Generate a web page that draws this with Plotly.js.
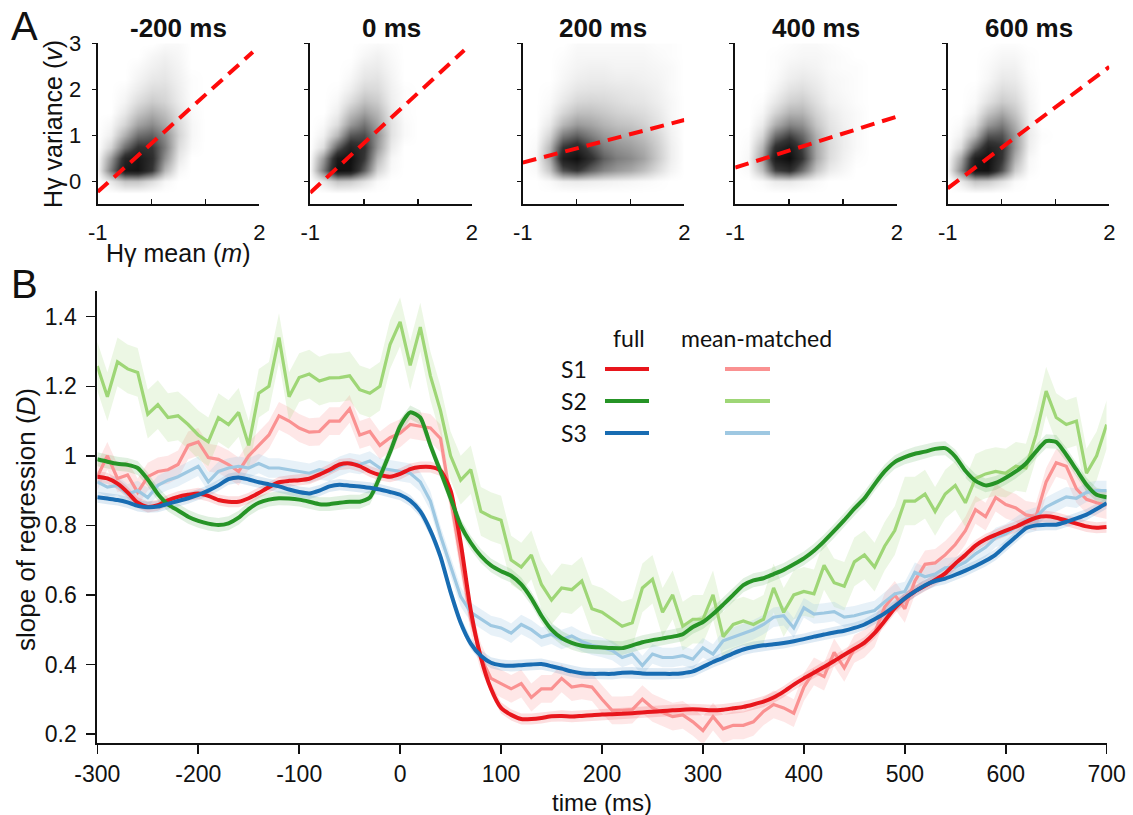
<!DOCTYPE html>
<html>
<head>
<meta charset="utf-8">
<script src="https://cdn.plot.ly/plotly-3.0.1.min.js"></script>
<style>
html,body{margin:0;padding:0;background:#fff;}
#chart{width:1133px;height:815px;}
</style>
</head>
<body>
<div id="chart"></div>
<script>
// ---------------- Panel A data ----------------
const panelTitles = ['-200 ms', '0 ms', '200 ms', '400 ms', '600 ms'];
const heatX = [-1, -0.75, -0.5, -0.25, 0, 0.25, 0.5, 0.75, 1, 1.25, 1.5, 1.75, 2];
const heatY = [3, 2.75, 2.5, 2.25, 2, 1.75, 1.5, 1.25, 1, 0.75, 0.5, 0.25, 0, -0.25];

const densM200 = [
[0,0,0,0,0,0.02,0.02,0,0,0,0,0,0],
[0,0,0,0,0.03,0.05,0.03,0,0,0,0,0,0],
[0,0,0,0.02,0.05,0.07,0.04,0,0,0,0,0,0],
[0,0,0,0.04,0.08,0.09,0.05,0.01,0,0,0,0,0],
[0,0,0.02,0.07,0.12,0.12,0.06,0.01,0,0,0,0,0],
[0,0,0.04,0.12,0.18,0.15,0.07,0.01,0,0,0,0,0],
[0,0,0.08,0.2,0.28,0.22,0.1,0.02,0,0,0,0,0],
[0,0.03,0.15,0.32,0.4,0.3,0.13,0.03,0,0,0,0,0],
[0,0.06,0.28,0.5,0.55,0.4,0.15,0.03,0,0,0,0,0],
[0,0.15,0.5,0.72,0.7,0.45,0.12,0.02,0,0,0,0,0],
[0.02,0.35,0.8,0.9,0.75,0.38,0.08,0,0,0,0,0,0],
[0.03,0.45,0.9,0.92,0.7,0.25,0.03,0,0,0,0,0,0],
[0,0.08,0.2,0.2,0.12,0.03,0,0,0,0,0,0,0],
[0,0,0,0,0,0,0,0,0,0,0,0,0]];
const dens0 = [
[0,0,0,0,0.01,0.02,0.01,0,0,0,0,0,0],
[0,0,0,0,0.03,0.05,0.02,0,0,0,0,0,0],
[0,0,0,0.01,0.06,0.07,0.03,0,0,0,0,0,0],
[0,0,0,0.03,0.09,0.1,0.04,0,0,0,0,0,0],
[0,0,0.01,0.06,0.14,0.13,0.05,0.01,0,0,0,0,0],
[0,0,0.03,0.12,0.22,0.18,0.06,0.01,0,0,0,0,0],
[0,0,0.06,0.22,0.33,0.25,0.08,0.01,0,0,0,0,0],
[0,0.02,0.12,0.35,0.48,0.32,0.1,0.02,0,0,0,0,0],
[0,0.05,0.25,0.58,0.62,0.38,0.1,0.02,0,0,0,0,0],
[0,0.12,0.55,0.82,0.72,0.35,0.07,0,0,0,0,0,0],
[0.02,0.35,0.88,0.95,0.68,0.25,0.03,0,0,0,0,0,0],
[0.03,0.45,0.95,0.92,0.55,0.15,0.02,0,0,0,0,0,0],
[0,0.08,0.2,0.18,0.1,0.02,0,0,0,0,0,0,0],
[0,0,0,0,0,0,0,0,0,0,0,0,0]];
const dens200 = [
[0,0,0,0,0.02,0.02,0.02,0.02,0.02,0.02,0.01,0.01,0],
[0,0,0,0.01,0.03,0.03,0.03,0.03,0.03,0.03,0.02,0.01,0],
[0,0,0,0.02,0.04,0.05,0.05,0.04,0.04,0.04,0.03,0.02,0],
[0,0,0,0.03,0.06,0.07,0.07,0.06,0.06,0.05,0.04,0.02,0],
[0,0,0.01,0.05,0.09,0.1,0.1,0.09,0.08,0.07,0.05,0.02,0],
[0,0,0.02,0.08,0.14,0.15,0.14,0.12,0.1,0.09,0.06,0.03,0],
[0,0,0.04,0.14,0.22,0.22,0.19,0.16,0.14,0.12,0.08,0.03,0],
[0,0,0.08,0.25,0.35,0.32,0.26,0.22,0.2,0.16,0.1,0.04,0],
[0,0.01,0.15,0.45,0.55,0.45,0.35,0.3,0.27,0.22,0.14,0.05,0],
[0,0.02,0.25,0.7,0.8,0.62,0.45,0.38,0.34,0.28,0.17,0.06,0],
[0,0.03,0.3,0.85,0.95,0.75,0.55,0.45,0.4,0.32,0.18,0.06,0],
[0,0.02,0.2,0.6,0.7,0.55,0.42,0.35,0.3,0.22,0.12,0.04,0],
[0,0,0.02,0.06,0.07,0.06,0.05,0.04,0.03,0.02,0.01,0,0],
[0,0,0,0,0,0,0,0,0,0,0,0,0]];
const dens400 = [
[0,0,0,0,0.01,0.02,0.02,0.01,0,0,0,0,0],
[0,0,0,0.01,0.02,0.03,0.03,0.02,0.01,0,0,0,0],
[0,0,0,0.01,0.04,0.05,0.04,0.02,0.01,0.01,0,0,0],
[0,0,0,0.02,0.06,0.08,0.06,0.03,0.02,0.01,0,0,0],
[0,0,0,0.04,0.1,0.12,0.08,0.04,0.02,0.01,0,0,0],
[0,0,0.01,0.08,0.16,0.18,0.11,0.05,0.03,0.01,0,0,0],
[0,0,0.03,0.15,0.26,0.26,0.15,0.08,0.04,0.02,0,0,0],
[0,0,0.07,0.28,0.42,0.38,0.2,0.1,0.05,0.02,0,0,0],
[0,0.01,0.14,0.5,0.65,0.52,0.27,0.12,0.06,0.02,0,0,0],
[0,0.02,0.25,0.75,0.88,0.65,0.3,0.13,0.06,0.02,0,0,0],
[0,0.03,0.32,0.88,0.97,0.7,0.3,0.12,0.05,0.01,0,0,0],
[0,0.02,0.22,0.65,0.75,0.5,0.2,0.07,0.03,0,0,0,0],
[0,0,0.02,0.07,0.08,0.05,0.02,0,0,0,0,0,0],
[0,0,0,0,0,0,0,0,0,0,0,0,0]];
const dens600 = [
[0,0,0,0,0.01,0.01,0,0,0,0,0,0,0],
[0,0,0,0.01,0.03,0.03,0.01,0,0,0,0,0,0],
[0,0,0,0.02,0.05,0.05,0.01,0,0,0,0,0,0],
[0,0,0,0.03,0.08,0.07,0.02,0,0,0,0,0,0],
[0,0,0.01,0.06,0.12,0.1,0.03,0,0,0,0,0,0],
[0,0,0.02,0.1,0.18,0.14,0.04,0,0,0,0,0,0],
[0,0,0.05,0.2,0.3,0.2,0.05,0,0,0,0,0,0],
[0,0.02,0.12,0.35,0.45,0.28,0.06,0,0,0,0,0,0],
[0,0.05,0.25,0.58,0.6,0.35,0.07,0.01,0,0,0,0,0],
[0,0.12,0.52,0.82,0.72,0.35,0.06,0,0,0,0,0,0],
[0.02,0.3,0.85,0.95,0.7,0.28,0.03,0,0,0,0,0,0],
[0.03,0.4,0.92,0.93,0.6,0.18,0.02,0,0,0,0,0,0],
[0,0.07,0.2,0.18,0.1,0.02,0,0,0,0,0,0,0],
[0,0,0,0,0,0,0,0,0,0,0,0,0]];

// regression line end points (x, y) per panel
const regX = [[-1, 1.88], [-1, 1.86], [-1, 2], [-1, 2], [-1, 2]];
const regY = [[-0.23, 2.81], [-0.25, 2.85], [0.406, 1.333], [0.297, 1.406], [-0.152, 2.49]];

// ---------------- Panel B data ----------------
const timeMs = [-300,-290,-280,-270,-260,-250,-240,-230,-220,-210,
-200,-190,-180,-170,-160,-150,-140,-130,-120,-110,
-100,-90,-80,-70,-60,-50,-40,-30,-20,-10,
0,10,20,30,40,50,60,70,80,90,
100,110,120,130,140,150,160,170,180,190,
200,210,220,230,240,250,260,270,280,290,
300,310,320,330,340,350,360,370,380,390,
400,410,420,430,440,450,460,470,480,490,
500,510,520,530,540,550,560,570,580,590,
600,610,620,630,640,650,660,670,680,690,700];

const s1Full = [0.94,0.935,0.92,0.895,0.865,0.853,0.858,0.872,0.882,0.888,
0.892,0.885,0.873,0.868,0.868,0.878,0.893,0.91,0.924,0.928,
0.93,0.934,0.946,0.96,0.975,0.978,0.97,0.955,0.945,0.94,
0.948,0.962,0.968,0.968,0.958,0.9,0.75,0.555,0.42,0.33,
0.275,0.255,0.243,0.243,0.246,0.251,0.252,0.25,0.252,0.254,
0.256,0.257,0.258,0.26,0.262,0.264,0.266,0.268,0.27,0.271,
0.27,0.268,0.27,0.274,0.278,0.285,0.293,0.305,0.322,0.342,
0.36,0.376,0.393,0.41,0.428,0.445,0.463,0.49,0.525,0.562,
0.59,0.61,0.626,0.643,0.662,0.69,0.715,0.742,0.76,0.773,
0.785,0.796,0.81,0.822,0.826,0.822,0.814,0.805,0.797,0.793,0.795];

const s2Full = [0.99,0.983,0.977,0.974,0.965,0.932,0.89,0.86,0.843,0.825,
0.813,0.805,0.801,0.806,0.822,0.847,0.865,0.874,0.878,0.877,
0.874,0.868,0.861,0.861,0.865,0.868,0.868,0.88,0.94,1.01,
1.085,1.125,1.11,1.03,0.955,0.878,0.8,0.75,0.712,0.685,
0.668,0.655,0.63,0.59,0.54,0.5,0.476,0.462,0.454,0.45,
0.449,0.447,0.447,0.455,0.464,0.47,0.475,0.48,0.487,0.508,
0.522,0.545,0.572,0.6,0.628,0.642,0.648,0.66,0.672,0.688,
0.705,0.727,0.754,0.784,0.815,0.848,0.878,0.918,0.955,0.982,
0.996,1.006,1.012,1.02,1.022,0.998,0.957,0.928,0.915,0.922,
0.937,0.955,0.978,1.012,1.042,1.04,1.003,0.96,0.917,0.888,0.881];

const s3Full = [0.881,0.877,0.873,0.866,0.856,0.852,0.854,0.862,0.87,0.878,
0.888,0.9,0.915,0.933,0.938,0.932,0.924,0.918,0.912,0.903,
0.896,0.892,0.9,0.912,0.917,0.914,0.912,0.908,0.903,0.896,
0.888,0.871,0.84,0.785,0.71,0.608,0.52,0.46,0.425,0.405,
0.398,0.396,0.398,0.4,0.401,0.395,0.388,0.38,0.375,0.373,
0.373,0.373,0.376,0.377,0.374,0.373,0.373,0.373,0.375,0.38,
0.393,0.407,0.419,0.432,0.443,0.45,0.455,0.458,0.462,0.467,
0.473,0.48,0.486,0.492,0.497,0.505,0.515,0.53,0.547,0.568,
0.59,0.61,0.628,0.64,0.647,0.658,0.67,0.683,0.698,0.716,
0.742,0.767,0.792,0.8,0.802,0.802,0.81,0.82,0.831,0.847,0.864];

const s1Matched = [0.94,1.0,0.935,0.945,0.895,0.94,0.955,0.96,0.975,1.03,
1.04,0.995,0.99,0.975,0.955,1.0,1.03,1.06,1.115,1.1,
1.08,1.068,1.07,1.1,1.1,1.135,1.06,1.07,1.03,1.052,
1.065,1.09,1.085,1.08,1.05,0.88,0.7,0.53,0.42,0.36,
0.345,0.33,0.345,0.305,0.33,0.33,0.36,0.335,0.34,0.335,
0.3,0.268,0.268,0.27,0.3,0.275,0.262,0.25,0.255,0.235,
0.21,0.25,0.215,0.225,0.225,0.235,0.265,0.285,0.275,0.26,
0.335,0.38,0.365,0.435,0.39,0.445,0.46,0.49,0.565,0.6,
0.56,0.64,0.688,0.692,0.715,0.745,0.785,0.845,0.825,0.88,
0.86,0.85,0.83,0.825,0.925,0.98,0.97,0.905,0.875,0.865,0.858];

const s2Matched = [1.258,1.17,1.27,1.25,1.24,1.12,1.147,1.11,1.115,1.09,
1.06,1.04,1.11,1.09,1.125,1.03,1.18,1.2,1.34,1.17,
1.225,1.235,1.215,1.224,1.225,1.23,1.19,1.18,1.2,1.32,
1.385,1.26,1.37,1.23,1.13,1.0,0.93,0.96,0.84,0.825,
0.815,0.7,0.68,0.715,0.63,0.585,0.62,0.615,0.64,0.56,
0.55,0.53,0.51,0.52,0.62,0.645,0.55,0.6,0.51,0.53,
0.53,0.6,0.48,0.515,0.525,0.515,0.53,0.62,0.55,0.6,
0.61,0.603,0.685,0.635,0.625,0.695,0.715,0.68,0.74,0.785,
0.87,0.87,0.89,0.84,0.89,0.915,0.865,0.935,0.948,0.955,
0.95,0.97,0.965,1.06,1.186,1.11,1.09,1.1,0.95,1.0,1.09];

const s3Matched = [0.925,0.91,0.915,0.89,0.9,0.88,0.915,0.93,0.94,0.955,
0.97,0.925,0.955,0.965,0.97,0.965,0.978,0.965,0.965,0.96,
0.955,0.95,0.96,0.955,0.97,0.98,0.975,0.985,0.965,0.96,
0.955,0.95,0.925,0.87,0.77,0.68,0.595,0.55,0.53,0.512,
0.505,0.49,0.515,0.5,0.478,0.487,0.472,0.482,0.466,0.455,
0.449,0.44,0.42,0.43,0.397,0.43,0.42,0.42,0.425,0.415,
0.448,0.43,0.468,0.478,0.488,0.5,0.515,0.536,0.54,0.505,
0.563,0.545,0.548,0.552,0.536,0.54,0.548,0.555,0.58,0.603,
0.61,0.665,0.652,0.66,0.678,0.68,0.694,0.718,0.737,0.765,
0.776,0.795,0.815,0.824,0.853,0.868,0.882,0.878,0.895,0.9,0.9];

// standard error half-widths of the shaded bands
const semFull = [0.016, 0.02, 0.016];
const semMatched = [0.04, 0.07, 0.028];

const subjects = ['S1', 'S2', 'S3'];
const yTicksB = [0.2, 0.4, 0.6, 0.8, 1, 1.2, 1.4];
const yTickTextB = ['0.2', '0.4', '0.6', '0.8', '1', '1.2', '1.4'];
const xTicksB = [-300, -200, -100, 0, 100, 200, 300, 400, 500, 600, 700];
const xTickTextB = ['-300', '-200', '-100', '0', '100', '200', '300', '400', '500', '600', '700'];

// ---------------- styling ----------------
const W = 1133, H = 815;
const FONT = 'Liberation Sans, Arial, Helvetica, sans-serif';
const fullColors = ['rgb(232,22,28)', 'rgb(38,148,38)', 'rgb(24,108,178)'];
const matchedColors = ['rgb(250,145,145)', 'rgb(158,214,118)', 'rgb(158,200,226)'];
const fullFill = ['rgba(232,22,28,0.14)', 'rgba(38,148,38,0.14)', 'rgba(24,108,178,0.14)'];
const matchedFill = ['rgba(250,145,145,0.22)', 'rgba(158,214,118,0.2)', 'rgba(158,200,226,0.25)'];
const px = v => v / W;
const py = v => 1 - v / H;

const traces = [];

// Panel A
const dens = [densM200, dens0, dens200, dens400, dens600];
for (let i = 0; i < 5; i++) {
  const ax = i + 2;
  traces.push({
    type: 'heatmap', x: heatX, y: heatY, z: dens[i],
    xaxis: 'x' + ax, yaxis: 'y' + ax,
    zmin: 0, zmax: 1, zsmooth: 'best', showscale: false, hoverinfo: 'skip',
    colorscale: [[0, 'rgba(0,0,0,0)'], [0.3, 'rgba(0,0,0,0.34)'], [0.7, 'rgba(0,0,0,0.8)'], [1, 'rgba(0,0,0,0.97)']]
  });
  traces.push({
    type: 'scatter', mode: 'lines', x: regX[i], y: regY[i],
    xaxis: 'x' + ax, yaxis: 'y' + ax, cliponaxis: true,
    line: {color: 'rgb(255,10,10)', width: 4, dash: '14px,8px'},
    hoverinfo: 'skip', showlegend: false
  });
}

// Panel B
function band(y, sem, fill) {
  const up = y.map(v => v + sem);
  const lo = y.map(v => v - sem);
  return {
    type: 'scatter', mode: 'lines',
    x: timeMs.concat(timeMs.slice().reverse()),
    y: up.concat(lo.slice().reverse()),
    fill: 'toself', fillcolor: fill, line: {width: 0, color: 'rgba(0,0,0,0)'},
    xaxis: 'x', yaxis: 'y', hoverinfo: 'skip', showlegend: false
  };
}
const fullSeries = [s1Full, s2Full, s3Full];
const matchedSeries = [s1Matched, s2Matched, s3Matched];
for (let i = 0; i < 3; i++) traces.push(band(matchedSeries[i], semMatched[i], matchedFill[i]));
for (let i = 0; i < 3; i++) traces.push(band(fullSeries[i], semFull[i], fullFill[i]));
for (let i = 0; i < 3; i++) {
  traces.push({
    type: 'scatter', mode: 'lines', x: timeMs, y: matchedSeries[i],
    name: subjects[i] + ' mean-matched',
    line: {color: matchedColors[i], width: 3.2}, xaxis: 'x', yaxis: 'y', showlegend: false
  });
}
for (let i = 0; i < 3; i++) {
  traces.push({
    type: 'scatter', mode: 'lines', x: timeMs, y: fullSeries[i],
    name: subjects[i] + ' full',
    line: {color: fullColors[i], width: 4, shape: 'spline', smoothing: 0.6}, xaxis: 'x', yaxis: 'y', showlegend: false
  });
}

const layout = {
  width: W, height: H,
  margin: {l: 0, r: 0, t: 0, b: 0},
  paper_bgcolor: '#fff', plot_bgcolor: 'rgba(0,0,0,0)',
  showlegend: false,
  font: {family: FONT, color: '#111', size: 20},
  xaxis: {
    domain: [px(97.3), px(1106.7)], range: [-300, 700], anchor: 'y',
    tickvals: xTicksB, ticktext: xTickTextB, ticks: 'outside', ticklen: 9, tickwidth: 1.5, tickcolor: '#111',
    showline: true, linewidth: 2, linecolor: '#111', showgrid: false, zeroline: false,
    tickfont: {size: 23, family: FONT}, ticklabelstandoff: 1
  },
  yaxis: {
    domain: [py(742.7), py(291)], range: [0.175, 1.474], anchor: 'x',
    tickvals: yTicksB, ticktext: yTickTextB, ticks: 'outside', ticklen: 9, tickwidth: 1.5, tickcolor: '#111',
    showline: true, linewidth: 2, linecolor: '#111', showgrid: false, zeroline: false,
    tickfont: {size: 23, family: FONT}, ticklabelstandoff: 5
  },
  annotations: [],
  shapes: []
};

const aLeft = [97.7, 310.2, 522.7, 735.2, 947.7];
const aWidth = 161.6;
for (let i = 0; i < 5; i++) {
  const ax = i + 2;
  layout['xaxis' + ax] = {
    domain: [px(aLeft[i]), px(aLeft[i] + aWidth)], range: [-1, 2], anchor: 'y' + ax,
    tickvals: [-1, 0, 1, 2], ticktext: ['-1', '', '', '2'], ticks: 'inside', ticklen: 5, tickwidth: 1.5,
    tickcolor: '#111', showline: true, linewidth: 2, linecolor: '#111', showgrid: false, zeroline: false,
    tickfont: {size: 22, family: FONT}, ticklabelstandoff: 7
  };
  layout['yaxis' + ax] = {
    domain: [py(204.3), py(43.3)], range: [-0.5, 3], anchor: 'x' + ax,
    tickvals: [0, 1, 2, 3], ticks: 'outside', ticklen: 4, tickwidth: 1.5, tickcolor: '#111',
    showticklabels: i === 0, showline: true, linewidth: 2, linecolor: '#111', showgrid: false, zeroline: false,
    tickfont: {size: 22, family: FONT}, ticklabelstandoff: 6
  };
  layout.annotations.push({
    text: '<b>' + panelTitles[i] + '</b>', xref: 'paper', yref: 'paper',
    x: px(aLeft[i] + aWidth / 2), y: py(28), xanchor: 'center', yanchor: 'middle',
    showarrow: false, font: {size: 26, family: FONT, color: '#111'}
  });
}

function ann(text, x, y, size, extra) {
  layout.annotations.push(Object.assign({
    text: text, xref: 'paper', yref: 'paper', x: px(x), y: py(y),
    xanchor: 'center', yanchor: 'middle', showarrow: false,
    font: {size: size, family: FONT, color: '#111'}
  }, extra || {}));
}
ann('A', 24, 26, 40);
ann('B', 24, 284, 40);
ann('Hγ variance (<i>v</i>)', 53, 124, 25, {textangle: -90});
ann('Hγ mean (<i>m</i>)', 178, 253, 25);
ann('slope of regression (<i>D</i>)', 26, 520, 26, {textangle: -90});
ann('time (ms)', 602, 802, 24);

// legend block
const LFONT = 'Lato, Noto Sans, sans-serif';
ann('full', 629, 338, 23, {font: {size: 23, family: LFONT, color: '#111'}});
ann('mean-matched', 757, 338, 23, {font: {size: 23, family: LFONT, color: '#111'}});
const rowY = [369, 401, 433];
for (let i = 0; i < 3; i++) {
  ann(subjects[i], 574, rowY[i], 23, {font: {size: 23, family: LFONT, color: '#111'}});
  layout.shapes.push({type: 'line', xref: 'paper', yref: 'paper',
    x0: px(605), x1: px(649), y0: py(rowY[i]), y1: py(rowY[i]),
    line: {color: fullColors[i], width: 4}});
  layout.shapes.push({type: 'line', xref: 'paper', yref: 'paper',
    x0: px(725), x1: px(770), y0: py(rowY[i]), y1: py(rowY[i]),
    line: {color: matchedColors[i], width: 4}});
}

Plotly.newPlot('chart', traces, layout, {staticPlot: true, displayModeBar: false});
</script>
</body>
</html>
